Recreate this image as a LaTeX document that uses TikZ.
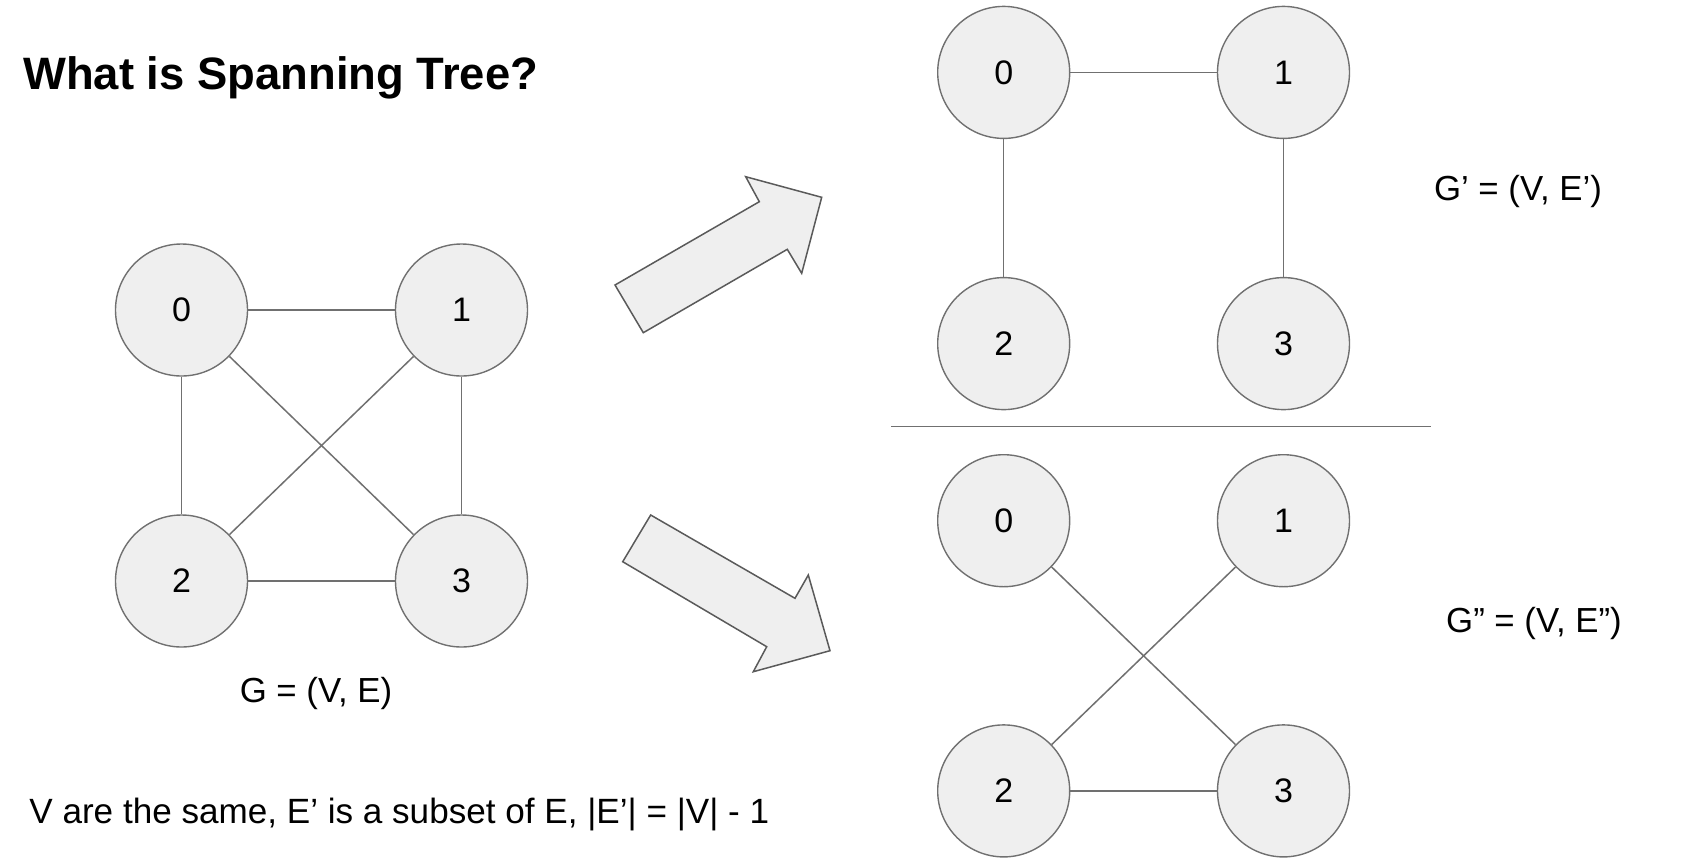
\documentclass[tikz,border=0pt]{standalone}
\usepackage{fontspec}
\setmainfont{Liberation Sans}
\definecolor{vfill}{HTML}{EFEFEF}
\definecolor{vline}{HTML}{707070}
\definecolor{eline}{HTML}{707070}
\definecolor{aline}{HTML}{5A5A5A}
\tikzset{
    vert/.style={circle, draw=vline, fill=vfill, line width=0.7pt, minimum size=66pt, inner sep=0pt, font=\fontsize{17}{20}\selectfont},
    edge/.style={draw=eline, line width=0.75pt},
    bigarrow/.style={draw=aline, fill=vfill, line width=0.75pt, line join=miter},
    glabel/.style={anchor=base, inner sep=0pt, font=\fontsize{17.4}{21}\selectfont}
}

\begin{document}
\begin{tikzpicture}[x=0.5pt, y=-0.5pt]
    \useasboundingbox (0,0) rectangle (1694,864);
    \node [anchor=base west, inner sep=0pt, font=\fontsize{22.7}{27}\selectfont\bfseries] (title) at (23,89) {What is Spanning Tree?};

    \node [vert] (g0) at (181.5,310) {0};
    \node [vert] (g1) at (461.5,310) {1};
    \node [vert] (g2) at (181.5,581) {2};
    \node [vert] (g3) at (461.5,581) {3};
    \draw [edge] (g0) -- (g1);
    \draw [edge] (g0) -- (g2);
    \draw [edge] (g1) -- (g3);
    \draw [edge] (g2) -- (g3);
    \draw [edge] (g0) -- (g3);
    \draw [edge] (g1) -- (g2);
    \node [glabel] (glab) at (316,702) {G = (V, E)};

    \node [anchor=base west, inner sep=0pt, font=\fontsize{17.55}{21}\selectfont] (note) at (29,823) {V are the same, E’ is a subset of E, |E’| = |V| - 1};

    \draw [bigarrow] (615,285) -- (643.3,332.7) -- (787.3,249.3) -- (801.7,273.3) -- (821.7,197.3) -- (745.7,176.7) -- (759.3,201.7) -- cycle;
    \draw [bigarrow] (650.7,515) -- (622.7,561.7) -- (766.7,646.7) -- (753.3,671.7) -- (830,650.7) -- (808.3,575) -- (795,598.3) -- cycle;

    \node [vert] (p0) at (1003.7,72.4) {0};
    \node [vert] (p1) at (1283.5,72.4) {1};
    \node [vert] (p2) at (1003.7,343.6) {2};
    \node [vert] (p3) at (1283.5,343.6) {3};
    \draw [edge] (p0) -- (p1);
    \draw [edge] (p0) -- (p2);
    \draw [edge] (p1) -- (p3);
    \node [glabel] (plab) at (1518,200) {G’ = (V, E’)};

    \coordinate (sepL) at (891,426.7);
    \coordinate (sepR) at (1431,426.7);
    \draw [edge] (sepL) -- (sepR);

    \node [vert] (q0) at (1003.7,520.7) {0};
    \node [vert] (q1) at (1283.5,520.7) {1};
    \node [vert] (q2) at (1003.7,790.9) {2};
    \node [vert] (q3) at (1283.5,790.9) {3};
    \draw [edge] (q0) -- (q3);
    \draw [edge] (q1) -- (q2);
    \draw [edge] (q2) -- (q3);
    \node [glabel] (qlab) at (1534,632) {G” = (V, E”)};
\end{tikzpicture}
\end{document}
